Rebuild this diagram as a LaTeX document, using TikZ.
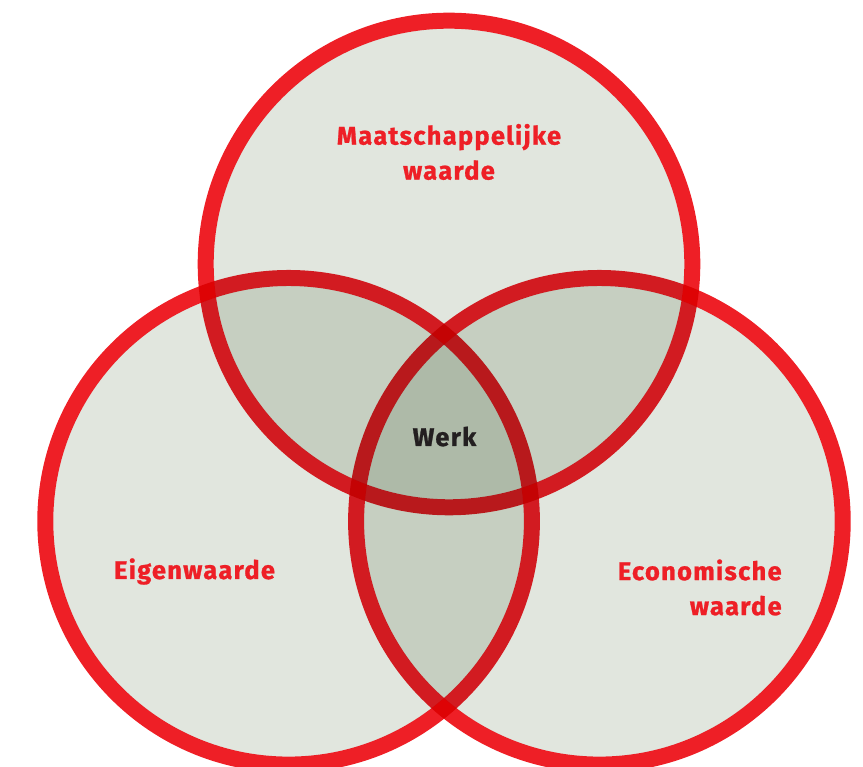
\documentclass[tikz,border=0pt]{standalone}
\usepackage{fontspec}
\setmainfont{Fira Sans}[BoldFeatures={FakeBold=1,LetterSpace=5}]
\usepackage{tikz}

\definecolor{vennred}{RGB}{238,31,38}
\definecolor{venngrey}{RGB}{225,230,222}
\definecolor{werkblack}{RGB}{35,31,32}

\tikzset{
	vennfill/.style={fill=venngrey},
	vennline/.style={draw=vennred, line width=0.32cm},
	vennlabel/.style={text=vennred, inner sep=0pt, font=\bfseries\fontsize{14.5}{19.9}\selectfont}
}

\begin{document}
\begin{tikzpicture}
			\useasboundingbox (0,0) rectangle (17.26,15.34);
			
			% Центры кругов
			\coordinate (M) at (8.98,10.06);
			\coordinate (E) at (5.772,4.914);
			\coordinate (C) at (11.988,4.914);
			
			\begin{scope}[blend mode=multiply]
				% Заливка кругов
				\fill[vennfill] (M) circle (4.706);
				\fill[vennfill] (E) circle (4.706);
				\fill[vennfill] (C) circle (4.706);
				
				% Контуры кругов
				\draw[vennline] (M) circle (4.866);
				\draw[vennline] (E) circle (4.866);
				\draw[vennline] (C) circle (4.866);
			\end{scope}
			
			% Подписи
			\node[vennlabel, align=center] (maat) at (8.98,12.30) {Maatschappelijke\\waarde};
			\node[vennlabel, anchor=base] (eigen) at (3.89,3.76) {Eigenwaarde};
			\node[vennlabel, align=right, anchor=east] (econ) at (15.64,3.59) {Economische\\waarde};
			\node[vennlabel, anchor=base, text=werkblack] (werk) at (8.89,6.42) {Werk};
		\end{tikzpicture}
\end{document}
